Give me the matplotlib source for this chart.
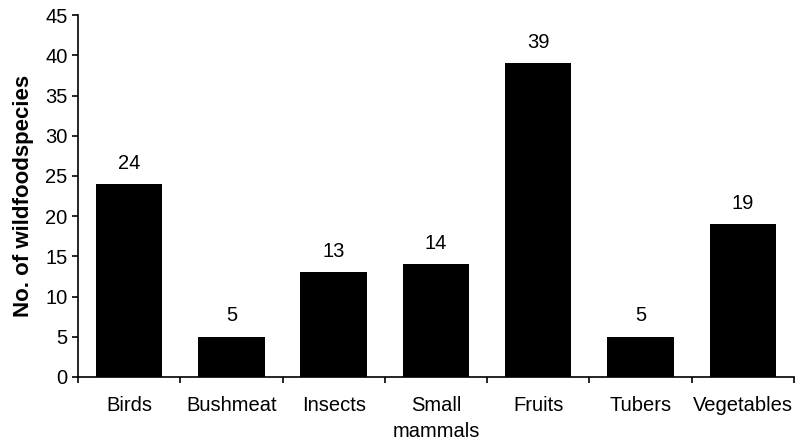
import numpy as np
import matplotlib.pyplot as plt

categories = ["Birds", "Bushmeat", "Insects", "Small\nmammals", "Fruits", "Tubers", "Vegetables"]
counts = [24, 5, 13, 14, 39, 5, 19]
yticks = list(range(0, 50, 5))

plt.rcParams["font.family"] = ["Liberation Sans", "DejaVu Sans"]

fig = plt.figure(figsize=(7.99, 4.45), dpi=100)
ax = fig.add_axes([0.0976, 0.153, 0.896, 0.813])

x = np.arange(len(categories))
ax.bar(x, counts, width=0.65, color="black")

for xi, v in zip(x, counts):
    ax.text(xi, v + 1.4, str(v), ha="center", va="bottom", fontsize=14.5)

ax.set_xlim(-0.5, len(categories) - 0.5)
ax.set_ylim(0, 45)
ax.set_yticks(yticks)
ax.set_xticks(x)
ax.set_xticklabels(categories, fontsize=14.5, va="top", linespacing=1.45)
ax.set_xticks(np.arange(len(categories) + 1) - 0.5, minor=True)
ax.tick_params(axis="x", which="major", length=0, pad=14)
ax.tick_params(axis="x", which="minor", length=4.5, width=1.2, direction="out")
ax.tick_params(axis="y", labelsize=14.5, length=4.5, width=1.2, direction="out", pad=3)

ax.spines["top"].set_visible(False)
ax.spines["right"].set_visible(False)
ax.spines["left"].set_linewidth(1.2)
ax.spines["bottom"].set_linewidth(1.2)

ax.set_ylabel("No. of wildfoodspecies", fontsize=16, fontweight="bold", labelpad=8)

fig.savefig("out.png", dpi=100)
